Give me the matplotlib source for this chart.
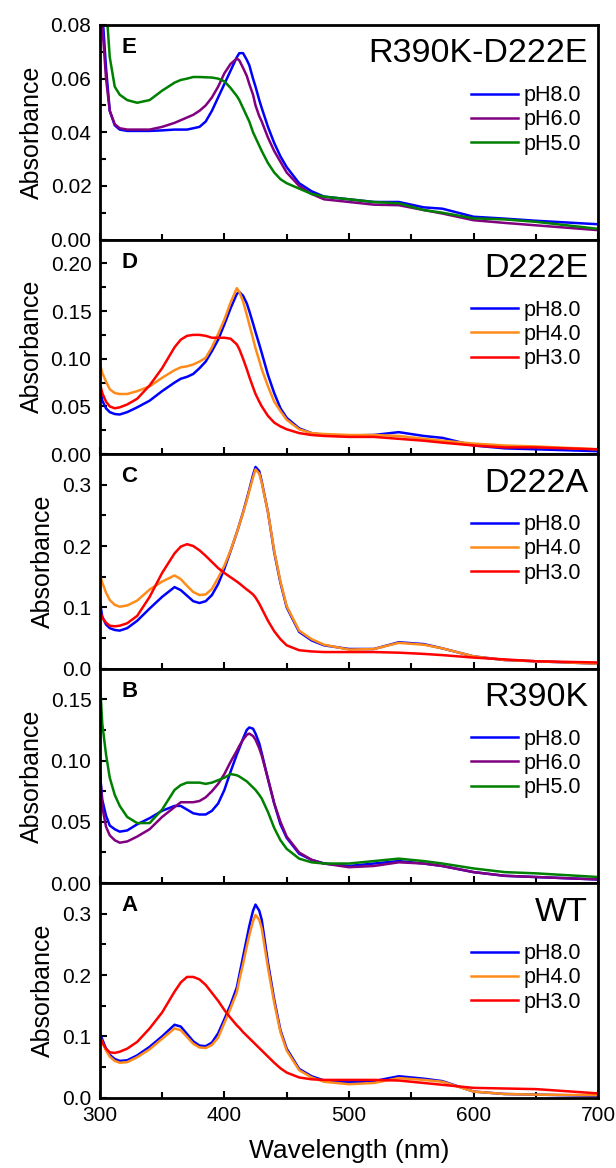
import numpy as np
import matplotlib
matplotlib.use("Agg")
import matplotlib.pyplot as plt
from matplotlib.ticker import MultipleLocator

plt.rcParams['font.family'] = ['Liberation Sans', 'DejaVu Sans']

# common wavelength grid (nm)
wl = [300, 302, 305, 308, 312, 316, 322, 330, 340, 350, 360, 365, 370, 375, 380,
      385, 390, 395, 400, 405,
      410, 412, 415, 418, 420, 423, 425, 428, 430, 435, 440, 445, 450, 460,
      470, 480, 500, 520, 540, 560, 575, 600, 625, 650, 700]

# panel E : R390K-D222E
e_ph8 = [0.095, 0.085, 0.064, 0.048, 0.0426, 0.041, 0.0405, 0.0405, 0.0405, 0.0407, 0.041,
         0.041, 0.041, 0.0415, 0.042, 0.044, 0.048, 0.053, 0.058, 0.063,
         0.068, 0.0695, 0.0695, 0.067, 0.065, 0.060, 0.057, 0.052, 0.049, 0.042, 0.036, 0.031, 0.027, 0.021,
         0.018, 0.016, 0.015, 0.014, 0.014, 0.012, 0.0115, 0.0085, 0.0078, 0.007, 0.0057]
e_ph6 = [0.090, 0.080, 0.060, 0.048, 0.043, 0.0415, 0.041, 0.041, 0.041, 0.042, 0.0435,
         0.0445, 0.0455, 0.0465, 0.048, 0.050, 0.053, 0.057, 0.062, 0.0655,
         0.0675, 0.0668, 0.064, 0.061, 0.058, 0.054, 0.050, 0.046, 0.044, 0.038, 0.033, 0.029, 0.025, 0.020,
         0.017, 0.015, 0.014, 0.013, 0.0128, 0.011, 0.0097, 0.0072, 0.0062, 0.0053, 0.0035]
e_ph5 = [0.110, 0.100, 0.088, 0.068, 0.057, 0.054, 0.052, 0.051, 0.052, 0.0555, 0.0585,
         0.0595, 0.060, 0.0606, 0.0606, 0.0605, 0.0604, 0.060, 0.059, 0.0565,
         0.0535, 0.052, 0.049, 0.046, 0.044, 0.040, 0.038, 0.035, 0.033, 0.0285, 0.025, 0.0225, 0.021, 0.019,
         0.017, 0.016, 0.015, 0.014, 0.0135, 0.011, 0.010, 0.0079, 0.0075, 0.0066, 0.004]

# panel D : D222E
d_ph8 = [0.073, 0.056, 0.048, 0.044, 0.042, 0.0415, 0.044, 0.049, 0.056, 0.066, 0.075,
         0.079, 0.081, 0.084, 0.090, 0.097, 0.108, 0.120, 0.136, 0.153,
         0.168, 0.170, 0.166, 0.158, 0.150, 0.137, 0.128, 0.115, 0.106, 0.083, 0.064, 0.048, 0.038, 0.027,
         0.022, 0.020, 0.0195, 0.020, 0.023, 0.019, 0.017, 0.009, 0.006, 0.005, 0.003]
d_ph4 = [0.095, 0.085, 0.076, 0.068, 0.064, 0.063, 0.063, 0.066, 0.071, 0.080, 0.088,
         0.091, 0.092, 0.094, 0.097, 0.101, 0.112, 0.126, 0.141, 0.159,
         0.174, 0.170, 0.160, 0.146, 0.136, 0.121, 0.111, 0.098, 0.089, 0.071, 0.055, 0.045, 0.036, 0.026,
         0.022, 0.021, 0.020, 0.020, 0.019, 0.016, 0.014, 0.011, 0.009, 0.008, 0.005]
d_ph3 = [0.0745, 0.064, 0.055, 0.050, 0.048, 0.049, 0.052, 0.058, 0.072, 0.090, 0.112,
         0.120, 0.124, 0.125, 0.125, 0.124, 0.122, 0.122, 0.122, 0.121,
         0.115, 0.110, 0.100, 0.089, 0.081, 0.070, 0.063, 0.055, 0.050, 0.040, 0.033, 0.029, 0.026, 0.022,
         0.020, 0.019, 0.018, 0.018, 0.016, 0.014, 0.012, 0.009, 0.007, 0.007, 0.005]

# panel C : D222A
c_ph8 = [0.109, 0.085, 0.072, 0.066, 0.063, 0.062, 0.066, 0.078, 0.098, 0.117, 0.133,
         0.128, 0.119, 0.110, 0.107, 0.110, 0.120, 0.138, 0.163, 0.192,
         0.222, 0.235, 0.255, 0.277, 0.292, 0.316, 0.329, 0.322, 0.305, 0.255, 0.190, 0.140, 0.100, 0.060,
         0.046, 0.038, 0.032, 0.032, 0.043, 0.040, 0.033, 0.020, 0.014, 0.012, 0.008]
c_ph4 = [0.155, 0.140, 0.124, 0.112, 0.104, 0.101, 0.103, 0.111, 0.129, 0.142, 0.152,
         0.146, 0.135, 0.125, 0.120, 0.121, 0.130, 0.148, 0.168, 0.193,
         0.222, 0.235, 0.254, 0.275, 0.290, 0.312, 0.325, 0.318, 0.303, 0.255, 0.192, 0.142, 0.102, 0.062,
         0.048, 0.039, 0.031, 0.032, 0.042, 0.039, 0.033, 0.020, 0.014, 0.012, 0.008]
c_ph3 = [0.095, 0.083, 0.075, 0.070, 0.069, 0.070, 0.074, 0.086, 0.117, 0.156, 0.188,
         0.199, 0.203, 0.200, 0.193, 0.184, 0.174, 0.164, 0.156, 0.149,
         0.142, 0.139, 0.134, 0.129, 0.126, 0.121, 0.116, 0.106, 0.098, 0.078, 0.061, 0.048, 0.038, 0.030,
         0.028, 0.027, 0.027, 0.027, 0.026, 0.024, 0.022, 0.018, 0.015, 0.012, 0.010]

# panel B : R390K
b_ph8 = [0.091, 0.068, 0.055, 0.047, 0.044, 0.042, 0.043, 0.048, 0.053, 0.059, 0.063,
         0.063, 0.060, 0.057, 0.056, 0.056, 0.059, 0.065, 0.076, 0.091,
         0.105, 0.110, 0.118, 0.125, 0.127, 0.126, 0.122, 0.114, 0.106, 0.085, 0.065, 0.048, 0.037, 0.024,
         0.019, 0.016, 0.014, 0.016, 0.018, 0.016, 0.014, 0.009, 0.006, 0.005, 0.003]
b_ph6 = [0.093, 0.062, 0.046, 0.039, 0.035, 0.033, 0.034, 0.038, 0.044, 0.054, 0.062,
         0.066, 0.066, 0.066, 0.067, 0.070, 0.075, 0.081, 0.089, 0.099,
         0.108, 0.112, 0.117, 0.121, 0.122, 0.120, 0.117, 0.110, 0.104, 0.085, 0.065, 0.050, 0.038, 0.025,
         0.019, 0.016, 0.013, 0.014, 0.017, 0.016, 0.014, 0.009, 0.006, 0.005, 0.003]
b_ph5 = [0.167, 0.130, 0.105, 0.086, 0.072, 0.063, 0.054, 0.049, 0.049, 0.060, 0.076,
         0.080, 0.082, 0.082, 0.082, 0.081, 0.082, 0.084, 0.086, 0.089,
         0.088, 0.087, 0.085, 0.083, 0.081, 0.078, 0.076, 0.072, 0.069, 0.058, 0.045, 0.035, 0.028, 0.020,
         0.017, 0.016, 0.016, 0.018, 0.020, 0.018, 0.016, 0.012, 0.009, 0.008, 0.005]

# panel A : WT
a_ph8 = [0.106, 0.095, 0.080, 0.070, 0.063, 0.060, 0.061, 0.069, 0.083, 0.100, 0.119,
         0.116, 0.104, 0.092, 0.085, 0.084, 0.090, 0.105, 0.128, 0.152,
         0.180, 0.200, 0.230, 0.260, 0.280, 0.305, 0.315, 0.305, 0.290, 0.220, 0.160, 0.110, 0.080, 0.047,
         0.035, 0.028, 0.025, 0.027, 0.035, 0.031, 0.027, 0.010, 0.006, 0.005, 0.003]
a_ph4 = [0.100, 0.090, 0.077, 0.067, 0.060, 0.057, 0.058, 0.066, 0.079, 0.096, 0.113,
         0.110, 0.099, 0.088, 0.082, 0.081, 0.086, 0.098, 0.122, 0.146,
         0.172, 0.192, 0.218, 0.247, 0.265, 0.288, 0.298, 0.290, 0.276, 0.212, 0.155, 0.107, 0.077, 0.045,
         0.033, 0.026, 0.022, 0.024, 0.032, 0.029, 0.026, 0.010, 0.006, 0.005, 0.004]
a_ph3 = [0.100, 0.090, 0.080, 0.074, 0.073, 0.075, 0.080, 0.091, 0.113, 0.139, 0.173,
         0.188, 0.197, 0.197, 0.193, 0.184, 0.171, 0.158, 0.143, 0.130,
         0.118, 0.114, 0.107, 0.101, 0.097, 0.091, 0.087, 0.081, 0.077, 0.067, 0.057, 0.048, 0.041, 0.033,
         0.030, 0.029, 0.029, 0.029, 0.028, 0.024, 0.021, 0.016, 0.015, 0.014, 0.007]

BLUE, PURPLE, GREEN, ORANGE, RED = '#0000ff', '#800080', '#008000', '#ff8c1a', '#ff0000'

panels = [
    ('E', 'R390K-D222E', [(e_ph8, 'pH8.0', BLUE), (e_ph6, 'pH6.0', PURPLE), (e_ph5, 'pH5.0', GREEN)], 0.08, 0.02),
    ('D', 'D222E', [(d_ph8, 'pH8.0', BLUE), (d_ph4, 'pH4.0', ORANGE), (d_ph3, 'pH3.0', RED)], 0.225, 0.05),
    ('C', 'D222A', [(c_ph8, 'pH8.0', BLUE), (c_ph4, 'pH4.0', ORANGE), (c_ph3, 'pH3.0', RED)], 0.35, 0.1),
    ('B', 'R390K', [(b_ph8, 'pH8.0', BLUE), (b_ph6, 'pH6.0', PURPLE), (b_ph5, 'pH5.0', GREEN)], 0.175, 0.05),
    ('A', 'WT', [(a_ph8, 'pH8.0', BLUE), (a_ph4, 'pH4.0', ORANGE), (a_ph3, 'pH3.0', RED)], 0.35, 0.1),
]

fig, axes = plt.subplots(5, 1, figsize=(6.16, 11.68), dpi=100, sharex=True)
fig.subplots_adjust(left=0.162, right=0.971, top=0.9786, bottom=0.0602, hspace=0)

for ax, (letter, name, series, ytop, ystep) in zip(axes, panels):
    for vals, lab, col in series:
        ax.plot(wl, vals, color=col, lw=1.8, label=lab)
    ax.set_xlim(300, 700)
    ax.set_ylim(0, ytop)
    ax.yaxis.set_major_locator(MultipleLocator(ystep))
    ax.yaxis.set_minor_locator(MultipleLocator(ystep / 2))
    ax.xaxis.set_major_locator(MultipleLocator(100))
    ax.xaxis.set_minor_locator(MultipleLocator(50))
    if ystep < 0.1:
        ax.yaxis.set_major_formatter(plt.FormatStrFormatter('%.2f'))
    else:
        ax.yaxis.set_major_formatter(plt.FormatStrFormatter('%.1f'))
    ax.tick_params(which='both', direction='in', top=False, right=False,
                   labelsize=15, width=1.5, pad=6)
    ax.tick_params(which='major', length=5)
    ax.tick_params(which='minor', length=4)
    for sp in ax.spines.values():
        sp.set_linewidth(2)
    ax.set_ylabel('Absorbance', fontsize=18, labelpad=5)
    ax.text(0.043, 0.895, letter, transform=ax.transAxes, fontsize=16,
            fontweight='bold', ha='left', va='center')
    ax.text(0.98, 0.865, name, transform=ax.transAxes, fontsize=24.5,
            ha='right', va='center')
    ax.legend(loc='upper right', bbox_to_anchor=(0.966, 0.72), frameon=False,
              fontsize=15.5, handlelength=2.2, handletextpad=0.25,
              labelspacing=0.15, borderpad=0, borderaxespad=0)

axes[-1].set_xlabel('Wavelength (nm)', fontsize=19, labelpad=10)

fig.savefig('out.png', dpi=100)
